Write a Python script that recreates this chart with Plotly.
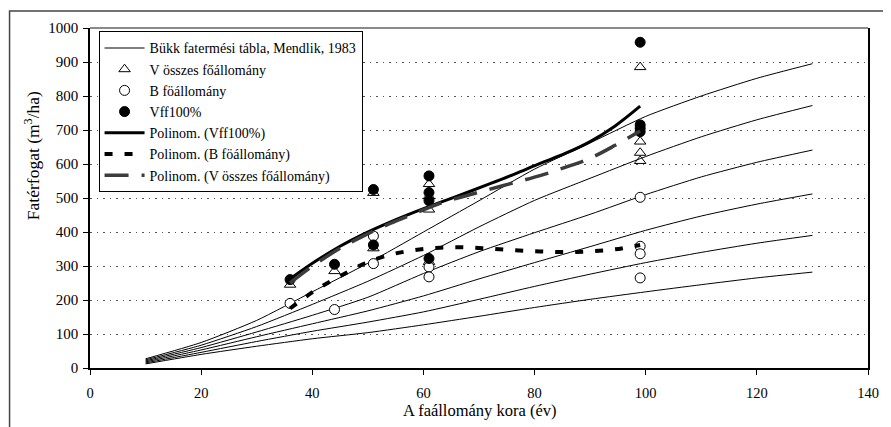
import plotly.graph_objects as go

# Mendlik yield table (Bükk fatermési tábla) – six site classes
table_age = [10, 20, 30, 40, 50, 60, 70, 80, 90, 100, 110, 120, 130]
site_1 = [27, 75, 140, 224, 308, 400, 492, 585, 662, 740, 800, 852, 895]
site_2 = [24, 67, 122, 187, 255, 331, 415, 493, 558, 622, 680, 730, 772]
site_3 = [21, 60, 106, 155, 208, 278, 342, 398, 452, 510, 562, 605, 641]
site_4 = [18, 53, 92, 130, 168, 212, 262, 310, 357, 405, 447, 482, 512]
site_5 = [15, 46, 78, 108, 135, 165, 202, 240, 276, 310, 340, 367, 390]
site_6 = [12, 40, 64, 86, 104, 127, 152, 178, 202, 224, 245, 265, 282]

# Measured stands
v_age = [36, 44, 51, 51, 61, 61, 61, 61, 99, 99, 99, 99]
v_total = [245, 285, 515, 352, 541, 505, 466, 312, 885, 666, 633, 609]
b_age = [36, 44, 51, 51, 61, 61, 99, 99, 99, 99]
b_stand = [190, 172, 388, 307, 297, 268, 502, 358, 336, 265]
vff_age = [36, 44, 51, 51, 61, 61, 61, 61, 99, 99, 99, 99]
vff = [260, 305, 525, 362, 565, 516, 492, 322, 958, 715, 705, 695]

# Polynomial trend lines
poly_age = [36, 40.5, 45, 49.5, 54, 58.5, 63, 67.5, 72, 76.5, 81, 85.5, 90, 94.5, 99]
poly_vff = [262, 313, 358, 396, 429, 459, 487, 514, 542, 571, 602, 631, 666, 712, 770]
poly_b = [175, 228, 270, 308, 333, 347, 354, 355, 351, 346, 343, 341, 343, 349, 362]
poly_v = [250, 305, 352, 391, 425, 455, 484, 506, 526, 546, 566, 590, 617, 655, 697]

x_ticks = [0, 20, 40, 60, 80, 100, 120, 140]
y_ticks = [0, 100, 200, 300, 400, 500, 600, 700, 800, 900, 1000]

FONT = "Liberation Serif, Times New Roman, serif"

fig = go.Figure()

for i, s in enumerate([site_1, site_2, site_3, site_4, site_5, site_6]):
    fig.add_trace(go.Scatter(
        x=table_age, y=s, mode="lines",
        line=dict(color="black", width=1, shape="spline", smoothing=0.6),
        name="Bükk fatermési tábla, Mendlik, 1983",
        showlegend=(i == 0),
    ))

fig.add_trace(go.Scatter(
    x=v_age, y=v_total, mode="markers", name="V összes főállomány",
    marker=dict(symbol="triangle-up-open", size=10, color="black", line=dict(width=1, color="black")),
))
fig.add_trace(go.Scatter(
    x=b_age, y=b_stand, mode="markers", name="B föállomány",
    marker=dict(symbol="circle", size=10, color="white", line=dict(width=1, color="black")),
))
fig.add_trace(go.Scatter(
    x=vff_age, y=vff, mode="markers", name="Vff100%",
    marker=dict(symbol="circle", size=10, color="black", line=dict(width=1, color="black")),
))
fig.add_trace(go.Scatter(
    x=poly_age, y=poly_vff, mode="lines", name="Polinom. (Vff100%)",
    line=dict(color="black", width=3, shape="spline", smoothing=1.0),
))
fig.add_trace(go.Scatter(
    x=poly_age, y=poly_b, mode="lines", name="Polinom. (B föállomány)",
    line=dict(color="black", width=4, dash="8px,12px", shape="spline"),
))
fig.add_trace(go.Scatter(
    x=poly_age, y=poly_v, mode="lines", name="Polinom. (V összes főállomány)",
    line=dict(color="#3c3c3c", width=3.5, dash="24px,13px", shape="spline"),
))

# page body has an 8px margin, so the figure is sized/offset to compensate
fig.update_layout(
    width=883, height=419,
    margin=dict(l=82, r=18, t=18, b=59),
    paper_bgcolor="white", plot_bgcolor="white",
    font=dict(family=FONT, size=15, color="black"),
    showlegend=True,
    legend=dict(
        x=0.011, y=0.99, xanchor="left", yanchor="top",
        bgcolor="white", bordercolor="black", borderwidth=1,
        font=dict(family=FONT, size=14, color="black"),
        tracegroupgap=0, itemwidth=40,
    ),
    xaxis=dict(
        range=[0, 140], tickvals=x_ticks, ticktext=[str(v) for v in x_ticks],
        showgrid=False, zeroline=False,
        showline=True, linecolor="black", linewidth=1.5,
        ticks="outside", ticklen=5, tickcolor="black",
        tickfont=dict(family=FONT, size=14.5), ticklabelstandoff=6,
    ),
    yaxis=dict(
        range=[0, 1000], tickvals=y_ticks, ticktext=[str(v) for v in y_ticks],
        showgrid=True, gridcolor="#555555", gridwidth=1, griddash="1.5px,5px",
        zeroline=False,
        showline=True, linecolor="black", linewidth=1.5, mirror=True,
        ticks="outside", ticklen=5, tickcolor="black",
        tickfont=dict(family=FONT, size=15), ticklabelstandoff=2,
    ),
    shapes=[
        dict(type="line", xref="paper", yref="paper", x0=0, x1=1, y0=1, y1=1,
             line=dict(color="#8a8a8a", width=2)),
        dict(type="rect", xref="paper", yref="paper",
             x0=-0.1034, x1=1.2, y0=-0.4, y1=1.0497,
             line=dict(color="#444444", width=1.5), fillcolor="rgba(0,0,0,0)", layer="below"),
    ],
    annotations=[
        dict(text="A faállomány kora (év)", xref="paper", yref="paper",
             x=0.5, y=-0.124, xanchor="center", yanchor="middle", showarrow=False,
             font=dict(family=FONT, size=16.5)),
        dict(text="Fatérfogat (m<sup>3</sup>/ha)", xref="paper", yref="paper",
             x=-0.075, y=0.625, xanchor="center", yanchor="middle", textangle=-90,
             showarrow=False, font=dict(family=FONT, size=17.5)),
    ],
)

fig.write_html("out.html")
